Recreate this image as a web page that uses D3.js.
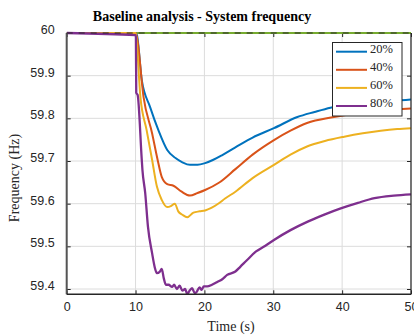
<!DOCTYPE html>
<html>
<head>
<meta charset="utf-8">
<script src="https://d3js.org/d3.v7.min.js"></script>
<style type="text/css">
body {margin:0;background:#fff;}
svg {display:block;font-family:"Liberation Serif","Times New Roman",serif;}
.grid line {stroke:#dcdcdc;stroke-width:1}
.tick text {fill:#262626;font-size:12.5px}
</style>
</head>
<body>
<svg id="chart" width="414" height="335"></svg>

<script type="text/javascript">
// values
var seriesNames = ["20%", "40%", "60%", "80%"];
var seriesColors = ["#0072BD", "#D95319", "#EDB120", "#7E2F8E"];
var xTicks = [0, 10, 20, 30, 40, 50];
var yTicks = [59.4, 59.5, 59.6, 59.7, 59.8, 59.9, 60];

var t20 = [0, 10, 10.2, 10.9, 12.1, 13.3, 14.6, 15.8, 16.8, 17.9, 19.0, 20.1, 21.3, 22.6, 24.5, 27, 30.1, 33.5, 36, 38.3, 41, 44, 47, 50];
var f20 = [60, 60, 59.995, 59.89, 59.827, 59.773, 59.726, 59.707, 59.697, 59.691, 59.691, 59.695, 59.703, 59.714, 59.732, 59.755, 59.777, 59.803, 59.815, 59.825, 59.833, 59.838, 59.841, 59.844];

var t40 = [0, 10, 10.2, 11.15, 12.4, 13.2, 13.8, 14.6, 15.5, 16.7, 17.9, 19, 20.1, 22.1, 24.5, 27, 30.1, 32.5, 34.9, 38.8, 42, 46, 50];
var f40 = [60, 60, 59.99, 59.851, 59.765, 59.703, 59.663, 59.646, 59.642, 59.628, 59.619, 59.625, 59.632, 59.649, 59.681, 59.715, 59.749, 59.771, 59.789, 59.803, 59.812, 59.819, 59.823];

var t60 = [0, 10, 10.1, 10.7, 11.6, 12.4, 13.1, 13.8, 14.6, 15.2, 15.7, 16.2, 16.8, 17.5, 18.4, 19.3, 20.1, 21, 22.1, 23, 24.5, 27, 30.1, 32.5, 34.9, 37.5, 40.3, 43, 45.6, 48, 50];
var f60 = [60, 60, 59.99, 59.851, 59.773, 59.703, 59.64, 59.609, 59.592, 59.595, 59.6, 59.582, 59.574, 59.568, 59.579, 59.582, 59.584, 59.59, 59.601, 59.612, 59.628, 59.66, 59.691, 59.715, 59.734, 59.747, 59.757, 59.765, 59.771, 59.775, 59.777];

var t80 = [0, 10, 10.05, 10.1, 10.3, 10.9, 11.0, 11.4, 11.8, 12.4, 12.8, 13.1, 13.5, 13.8, 14.1, 14.4, 14.8, 15.3, 15.6, 16.0, 16.4, 16.8, 17.2, 17.5, 17.8, 18.2, 18.6, 18.9, 19.3, 19.6, 19.9, 20.4, 21.1, 21.8, 22.6, 23.3, 24.5, 25.2, 26.2, 27.5, 28.8, 30.1, 32.5, 35, 37.5, 39.8, 42.3, 44.7, 47.5, 50];
var f80 = [60, 59.995, 59.99, 59.86, 59.855, 59.703, 59.679, 59.625, 59.546, 59.484, 59.45, 59.437, 59.44, 59.447, 59.425, 59.41, 59.41, 59.405, 59.41, 59.4, 59.408, 59.396, 59.4, 59.388, 59.395, 59.402, 59.39, 59.394, 59.404, 59.398, 59.406, 59.406, 59.41, 59.416, 59.423, 59.433, 59.441, 59.452, 59.468, 59.488, 59.501, 59.515, 59.538, 59.558, 59.575, 59.589, 59.602, 59.613, 59.619, 59.622];

var times = [t20, t40, t60, t80];
var freqs = [f20, f40, f60, f80];

var L = 66.7, R = 411, T = 33, B = 294.3;
var svg = d3.select("#chart");
var x = d3.scaleLinear().domain([0, 50]).range([L, R]);
var y = d3.scaleLinear().domain([59.3876, 60]).range([B, T]);

// grid
var grid = svg.append("g").attr("class", "grid");
grid.selectAll(".gx").data(xTicks).enter().append("line")
	.attr("x1", function(d){return x(d);}).attr("x2", function(d){return x(d);})
	.attr("y1", T).attr("y2", B);
grid.selectAll(".gy").data(yTicks).enter().append("line")
	.attr("x1", L).attr("x2", R)
	.attr("y1", function(d){return y(d);}).attr("y2", function(d){return y(d);});

// axes, ticks pointing inwards
var ax = svg.append("g").attr("transform", "translate(0," + B + ")")
	.call(d3.axisBottom(x).tickValues(xTicks).tickSizeInner(-4).tickSizeOuter(0).tickPadding(8));
var axTop = svg.append("g").attr("transform", "translate(0," + T + ")")
	.call(d3.axisTop(x).tickValues(xTicks).tickSizeInner(-4).tickSizeOuter(0).tickFormat(""));
var ay = svg.append("g").attr("transform", "translate(" + L + ",0)")
	.call(d3.axisLeft(y).tickValues(yTicks).tickSizeInner(-4).tickSizeOuter(0).tickPadding(12).tickFormat(d3.format("~g")));
var ayR = svg.append("g").attr("transform", "translate(" + R + ",0)")
	.call(d3.axisRight(y).tickValues(yTicks).tickSizeInner(-4).tickSizeOuter(0).tickFormat(""));
svg.selectAll(".domain").remove();
svg.selectAll(".tick line").attr("stroke", "#262626");
ay.selectAll(".tick text").attr("dy", "0.05em");

// curves
svg.append("clipPath").attr("id", "clip").append("rect")
	.attr("x", L).attr("y", T - 2).attr("width", R - L).attr("height", B - T + 2);
var plot = svg.append("g").attr("clip-path", "url(#clip)");
plot.append("line").attr("x1", L).attr("x2", R).attr("y1", y(60)).attr("y2", y(60))
	.attr("stroke", "#77AC30").attr("stroke-width", 2);

var line = d3.line()
	.curve(d3.curveMonotoneX)
	.x(function(d){return x(d[0]);})
	.y(function(d){return y(d[1]);});

for (var i = 0; i < 4; i++) {
	var pts = d3.zip(times[i], freqs[i]);
	plot.append("path").datum(pts)
		.attr("d", line)
		.attr("fill", "none")
		.attr("stroke", seriesColors[i])
		.attr("stroke-width", i == 3 ? 2.3 : 2)
		.attr("stroke-linejoin", "round");
}

// frame
svg.append("line").attr("x1", L).attr("x2", L).attr("y1", T).attr("y2", B).attr("stroke", "#555").attr("stroke-width", 2);
svg.append("line").attr("x1", L).attr("x2", R).attr("y1", B).attr("y2", B).attr("stroke", "#262626").attr("stroke-width", 1.5);
svg.append("line").attr("x1", R).attr("x2", R).attr("y1", T).attr("y2", B).attr("stroke", "#262626").attr("stroke-width", 1.2);
svg.append("line").attr("x1", L).attr("x2", R).attr("y1", T).attr("y2", T).attr("stroke", "#262626").attr("stroke-width", 1.2).attr("stroke-dasharray", "6,6");

// legend
var lg = svg.append("g");
lg.append("rect").attr("x", 332.5).attr("y", 42.5).attr("width", 69.5).attr("height", 73.5)
	.attr("fill", "#fff").attr("stroke", "#262626").attr("stroke-width", 1);
seriesNames.forEach(function(name, i) {
	var ly = 51.7 + i * 18.1;
	lg.append("line").attr("x1", 336).attr("x2", 367).attr("y1", ly).attr("y2", ly)
		.attr("stroke", seriesColors[i]).attr("stroke-width", 2);
	lg.append("text").attr("x", 370).attr("y", ly).attr("dy", "0.1em")
		.attr("font-size", 12.5).attr("fill", "#262626").text(name);
});

// titles
svg.append("text").attr("x", 202).attr("y", 21).attr("text-anchor", "middle")
	.attr("font-size", 14).attr("font-weight", "bold").attr("fill", "#000")
	.text("Baseline analysis - System frequency");
svg.append("text").attr("x", 231).attr("y", 331).attr("text-anchor", "middle")
	.attr("font-size", 14).attr("fill", "#262626").text("Time (s)");
svg.append("text").attr("transform", "translate(19,178) rotate(-90)").attr("text-anchor", "middle")
	.attr("font-size", 14).attr("fill", "#262626").text("Frequency (Hz)");
</script>
</body>
</html>
